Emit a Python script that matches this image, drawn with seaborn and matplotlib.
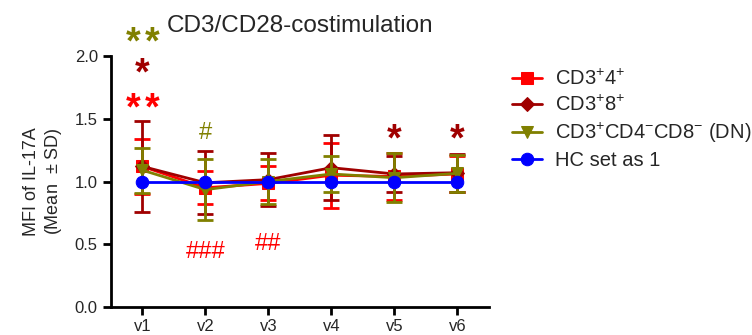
import matplotlib
matplotlib.use("Agg")
import matplotlib.pyplot as plt
import seaborn as sns
import pandas as pd
import numpy as np

visits = ["v1", "v2", "v3", "v4", "v5", "v6"]
series_names = ["CD3$^{+}$4$^{+}$", "CD3$^{+}$8$^{+}$",
                "CD3$^{+}$CD4$^{-}$CD8$^{-}$ (DN)", "HC set as 1"]
cd4_mean = [1.12, 0.95, 0.985, 1.05, 1.04, 1.06]
cd4_sd = [0.22, 0.13, 0.135, 0.26, 0.19, 0.14]
cd8_mean = [1.12, 0.99, 1.015, 1.11, 1.06, 1.07]
cd8_sd = [0.36, 0.25, 0.21, 0.26, 0.14, 0.15]
dn_mean = [1.09, 0.935, 1.0, 1.06, 1.03, 1.065]
dn_sd = [0.18, 0.245, 0.18, 0.14, 0.195, 0.145]
hc_mean = [1.0, 1.0, 1.0, 1.0, 1.0, 1.0]
hc_sd = [0.0, 0.0, 0.0, 0.0, 0.0, 0.0]

colors = ["#FF0000", "#A00000", "#808000", "#0000FF"]
markers = ["s", "D", "v", "o"]

# significance annotations
annot_text = ["**", "*", "**", "#", "###", "##", "*", "*"]
annot_x = [0, 0, 0, 1, 1, 2, 4, 5]
annot_y = [2.10, 1.85, 1.576, 1.39, 0.44, 0.50, 1.33, 1.33]
annot_color = ["#808000", "#A00000", "#FF0000", "#808000", "#FF0000", "#FF0000", "#A00000", "#A00000"]

sns.set_style("ticks")
plt.rcParams["font.family"] = ["Liberation Sans", "DejaVu Sans"]
plt.rcParams["mathtext.default"] = "regular"

means = [cd4_mean, cd8_mean, dn_mean, hc_mean]
sds = [cd4_sd, cd8_sd, dn_sd, hc_sd]
rows = []
for name, m in zip(series_names, means):
    for i, v in enumerate(visits):
        rows.append({"visit": i, "series": name, "value": m[i]})
df = pd.DataFrame(rows)

fig = plt.figure(figsize=(7.52, 3.35), dpi=100)
ax = fig.add_axes([0.1476, 0.0836, 0.5025, 0.7492])

for k, name in enumerate(series_names):
    if k < 3:
        ax.errorbar(range(len(visits)), means[k], yerr=sds[k], fmt="none",
                    ecolor=colors[k], elinewidth=2.0, capsize=5.5, capthick=2.0,
                    zorder=2 + k)
    sub = df[df["series"] == name]
    sns.lineplot(data=sub, x="visit", y="value", ax=ax, color=colors[k],
                 marker=markers[k], markersize=9 if k != 1 else 7,
                 markeredgecolor=colors[k], linewidth=2.0, label=name,
                 zorder=3 + k)

star_step = 0.30  # horizontal spacing between stars of one annotation (data units)
for t, xi, yi, c in zip(annot_text, annot_x, annot_y, annot_color):
    if "*" in t:
        n = len(t)
        for j, ch in enumerate(t):
            ax.text(xi + (j - (n - 1) / 2) * star_step, yi, ch, color=c,
                    fontsize=27, ha="center", va="center", clip_on=False,
                    fontweight="bold")
    else:
        ax.text(xi, yi, t, color=c, fontsize=17, ha="center", va="center",
                clip_on=False)

ax.set_xlim(-0.5, 5.5)
ax.set_ylim(0, 2.0)
ax.set_xticks(range(len(visits)))
ax.set_xticklabels(visits)
ax.set_yticks([0.0, 0.5, 1.0, 1.5, 2.0])
ax.set_yticklabels(["0.0", "0.5", "1.0", "1.5", "2.0"])
ax.tick_params(axis="both", labelsize=12, width=2, length=6, color="black")
ax.tick_params(axis="x", pad=3)
ax.set_xlabel("")
ax.set_ylabel("MFI of IL-17A\n(Mean  $\\pm$ SD)", fontsize=13, labelpad=8)
for s in ["left", "bottom"]:
    ax.spines[s].set_linewidth(2)
    ax.spines[s].set_color("black")
sns.despine(ax=ax)
ax.set_title("CD3/CD28-costimulation", fontsize=17.5, pad=17, x=0.5)

ax.legend(loc="upper left", bbox_to_anchor=(1.061, 0.95), frameon=False,
          fontsize=14.5, handlelength=1.5, labelspacing=0.3, handletextpad=0.65,
          borderaxespad=0, borderpad=0)

fig.savefig("out.png", dpi=100)
